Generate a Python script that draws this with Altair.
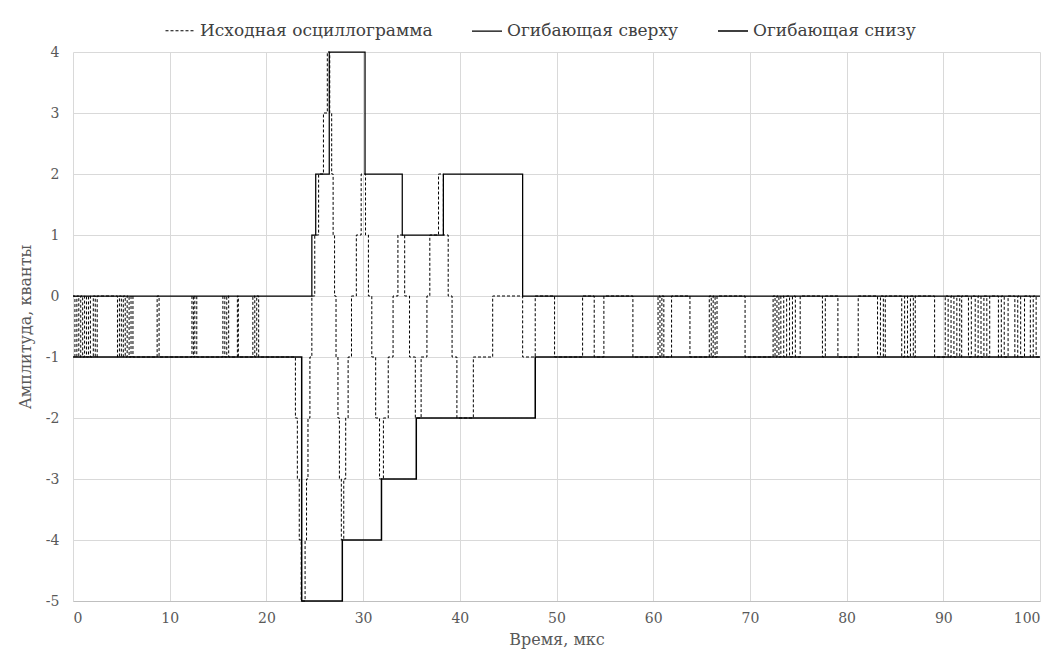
import altair as alt
import pandas as pd

series_names = ["Исходная осциллограмма", "Огибающая сверху", "Огибающая снизу"]

# Original oscillogram (step breakpoints: time, level)
osc_t = [0.0, 0.2, 0.4, 0.6, 0.8, 1.0, 1.2, 1.4, 1.6, 1.8, 2.1, 2.3, 2.5,
         4.6, 4.8, 5.0, 5.2, 5.4, 5.6, 5.8, 6.0, 6.2, 8.7, 8.9,
         12.3, 12.45, 12.6, 12.8, 15.5, 15.7, 15.9, 16.1, 17.0, 17.1,
         18.6, 18.8, 19.0, 19.2,
         23.0, 23.2, 23.4, 23.6, 24.0, 24.15, 24.3, 24.5, 24.7, 25.0, 25.4, 25.9, 26.3,
         26.55, 26.75, 26.9, 27.05, 27.2, 27.4, 27.55, 27.75,
         28.0, 28.2, 28.45, 28.8, 29.3, 29.8,
         30.25, 30.55, 30.9, 31.3, 31.7,
         32.1, 32.6, 33.1, 33.6,
         34.3, 34.8, 35.4,
         36.0, 36.6, 36.9, 37.8,
         38.3, 38.8, 39.2, 39.7,
         41.4, 43.4, 46.5, 47.8,
         49.8, 52.7, 53.9, 54.9, 57.9,
         60.5, 60.7, 60.9, 61.1, 61.9, 63.8,
         65.8, 66.0, 66.2, 66.4, 66.6, 69.5,
         72.4, 72.6, 72.8, 73.0, 73.2, 73.5, 73.8, 74.1, 74.4, 74.7, 75.2,
         77.5, 77.8, 79.1, 81.2,
         83.2, 83.5, 83.8, 84.0,
         85.7, 86.0, 86.3, 86.6, 86.9, 87.1, 89.1,
         90.2, 90.5, 90.8, 91.1, 91.4, 91.7, 91.9,
         92.6, 92.9, 93.3, 93.6, 93.9, 94.2, 94.5, 94.8,
         95.7, 96.0, 96.3, 96.7, 97.4, 97.7, 98.0, 98.4,
         99.0, 99.3, 99.6, 100.0]
osc_v = [0, -1, 0, -1, 0, -1, 0, -1, 0, -1, 0, -1, 0,
         -1, 0, -1, 0, -1, 0, -1, 0, -1, 0, -1,
         0, -1, 0, -1, 0, -1, 0, -1, 0, -1,
         0, -1, 0, -1,
         -2, -3, -4, -5, -4, -3, -2, -1, 0, 1, 2, 3, 4,
         3, 2, 1, 0, -1, -2, -3, -4,
         -3, -2, -1, 0, 1, 2,
         1, 0, -1, -2, -3,
         -2, -1, 0, 1,
         0, -1, -2,
         -1, 0, 1, 2,
         1, 0, -1, -2,
         -1, 0, -1, 0,
         -1, 0, -1, 0, -1,
         0, -1, 0, -1, 0, -1,
         0, -1, 0, -1, 0, -1,
         0, -1, 0, -1, 0, -1, 0, -1, 0, -1, 0,
         -1, 0, -1, 0,
         -1, 0, -1, 0,
         -1, 0, -1, 0, -1, 0, -1,
         0, -1, 0, -1, 0, -1, 0,
         -1, 0, -1, 0, -1, 0, -1, 0,
         -1, 0, -1, 0, -1, 0, -1, 0,
         -1, 0, -1, -1]

# Upper envelope
up_t = [0.0, 24.7, 25.1, 26.5, 30.2, 34.05, 38.3, 46.5, 100.0]
up_v = [0, 1, 2, 4, 2, 1, 2, 0, 0]

# Lower envelope
lo_t = [0.0, 23.65, 27.85, 31.9, 35.5, 47.8, 100.0]
lo_v = [-1, -5, -4, -3, -2, -1, -1]

x_ticks = [0, 10, 20, 30, 40, 50, 60, 70, 80, 90, 100]
y_ticks = [-5, -4, -3, -2, -1, 0, 1, 2, 3, 4]

rows = []
for name, ts, vs in [(series_names[0], osc_t, osc_v),
                     (series_names[1], up_t, up_v),
                     (series_names[2], lo_t, lo_v)]:
    for i, (t, v) in enumerate(zip(ts, vs)):
        rows.append({"series": name, "t": t, "v": v, "idx": i})
df = pd.DataFrame(rows)

FONT = "DejaVu Serif"
LBL = "#595959"

chart = alt.Chart(df).mark_line(interpolate="step-after", color="black").encode(
    x=alt.X("t:Q", scale=alt.Scale(domain=[0, 100], nice=False),
            axis=alt.Axis(values=x_ticks, title="Время, мкс", labelExpr="'' + datum.value")),
    y=alt.Y("v:Q", scale=alt.Scale(domain=[-5, 4], nice=False),
            axis=alt.Axis(values=y_ticks, title="Амплитуда, кванты", domain=False,
                          labelExpr="'' + datum.value")),
    strokeDash=alt.StrokeDash("series:N",
                              scale=alt.Scale(domain=series_names, range=[[3, 2], [1, 0], [1, 0]]),
                              legend=alt.Legend(title=None, orient="none", legendX=92, legendY=-37,
                                                direction="horizontal", symbolType="stroke",
                                                symbolSize=900, symbolStrokeColor="black",
                                                symbolStrokeWidth=1.2, labelFont=FONT,
                                                labelFontSize=17, labelColor="#404040",
                                                labelLimit=400,
                                                columnPadding=36, labelOffset=4)),
    strokeWidth=alt.StrokeWidth("series:N",
                                scale=alt.Scale(domain=series_names, range=[1.0, 1.5, 1.5]),
                                legend=None),
    order=alt.Order("idx:Q"),
).properties(
    width=967, height=549,
    padding={"left": 73, "top": 52, "right": 12, "bottom": 56},
    autosize=alt.AutoSizeParams(type="none"),
).configure_view(stroke=None).configure_axis(
    grid=True, gridColor="#d9d9d9", gridWidth=1, ticks=False,
    domainColor="#bfbfbf", labelFont=FONT, labelFontSize=14, labelColor=LBL,
    titleFont=FONT, titleFontSize=16, titleColor=LBL, titleFontWeight="normal",
).configure_axisX(labelPadding=10, titlePadding=6).configure_axisY(labelPadding=14, titlePadding=12)

chart.save("out.html", embed_options={"renderer": "svg", "actions": False})
